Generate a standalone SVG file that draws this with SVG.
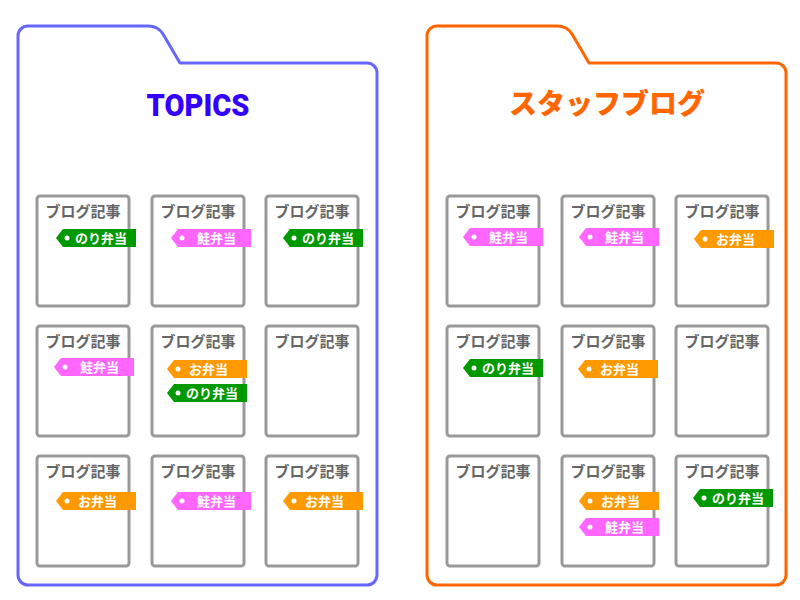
<svg xmlns="http://www.w3.org/2000/svg" width="800" height="600" viewBox="0 0 800 600">
<defs>
<style>
.folder{fill:#fff;stroke-width:3;stroke-linejoin:round}
.blue{stroke:#6666ff}
.orangef{stroke:#ff6600}
.ttl{font-family:"Noto Sans CJK JP","Noto Sans",sans-serif;font-weight:900;text-anchor:middle}
.card rect{fill:#fff;stroke:#999;stroke-width:3}
.card>text{font-family:"Noto Sans CJK JP",sans-serif;font-weight:bold;font-size:15px;fill:#666;text-anchor:middle}
.tag text{font-family:"Noto Sans CJK JP",sans-serif;font-weight:bold;font-size:13px;fill:#fff}
.tag circle{fill:#fff}
.g use{fill:#009900}
.p use{fill:#ff66ff}
.o use{fill:#ff9900}
</style>
<polygon id="tagshape" points="0,9 7,0 80,0 80,18 7,18"/>
</defs>
<rect width="800" height="600" fill="#fff"/>

<g id="folder-topics">
<path class="folder blue" d="M28,26 H148 Q158,26 163,34 L180,63 H367 A10,10 0 0 1 377,73 V575 A10,10 0 0 1 367,585 H28 A10,10 0 0 1 18,575 V36 A10,10 0 0 1 28,26 Z"/>
<text x="198" y="116" font-size="32" fill="#3300ff" font-weight="900" text-anchor="middle" style="font-family:Roboto,'Liberation Sans',sans-serif" textLength="103" lengthAdjust="spacingAndGlyphs">TOPICS</text>
</g>

<g id="folder-staff">
<path class="folder orangef" d="M437,26 H557 Q567,26 572,34 L589,63 H776 A10,10 0 0 1 786,73 V575 A10,10 0 0 1 776,585 H437 A10,10 0 0 1 427,575 V36 A10,10 0 0 1 437,26 Z"/>
<text class="ttl" x="607" y="114" font-size="28" fill="#ff6600">スタッフブログ</text>
</g>

<!-- TOPICS cards -->
<g id="t11" class="card"><rect x="37" y="196" width="92" height="110" rx="3"/><text x="83" y="217">ブログ記事</text>
<g class="tag g" transform="translate(56,229)"><use href="#tagshape"/><circle cx="11" cy="9" r="2.5"/><text x="19" y="14">のり弁当</text></g></g>
<g id="t12" class="card"><rect x="152" y="196" width="92" height="110" rx="3"/><text x="198" y="217">ブログ記事</text>
<g class="tag p" transform="translate(171,229)"><use href="#tagshape"/><circle cx="11" cy="9" r="2.5"/><text x="26" y="14">鮭弁当</text></g></g>
<g id="t13" class="card"><rect x="266" y="196" width="92" height="110" rx="3"/><text x="312" y="217">ブログ記事</text>
<g class="tag g" transform="translate(283,229)"><use href="#tagshape"/><circle cx="11" cy="9" r="2.5"/><text x="19" y="14">のり弁当</text></g></g>

<g id="t21" class="card"><rect x="37" y="326" width="92" height="110" rx="3"/><text x="83" y="347">ブログ記事</text>
<g class="tag p" transform="translate(54,358)"><use href="#tagshape"/><circle cx="11" cy="9" r="2.5"/><text x="26" y="14">鮭弁当</text></g></g>
<g id="t22" class="card"><rect x="152" y="326" width="92" height="110" rx="3"/><text x="198" y="347">ブログ記事</text>
<g class="tag o" transform="translate(167,360)"><use href="#tagshape"/><circle cx="11" cy="9" r="2.5"/><text x="22" y="14">お弁当</text></g>
<g class="tag g" transform="translate(167,384)"><use href="#tagshape"/><circle cx="11" cy="9" r="2.5"/><text x="19" y="14">のり弁当</text></g></g>
<g id="t23" class="card"><rect x="266" y="326" width="92" height="110" rx="3"/><text x="312" y="347">ブログ記事</text></g>

<g id="t31" class="card"><rect x="37" y="456" width="92" height="110" rx="3"/><text x="83" y="477">ブログ記事</text>
<g class="tag o" transform="translate(56,492)"><use href="#tagshape"/><circle cx="11" cy="9" r="2.5"/><text x="22" y="14">お弁当</text></g></g>
<g id="t32" class="card"><rect x="152" y="456" width="92" height="110" rx="3"/><text x="198" y="477">ブログ記事</text>
<g class="tag p" transform="translate(171,492)"><use href="#tagshape"/><circle cx="11" cy="9" r="2.5"/><text x="26" y="14">鮭弁当</text></g></g>
<g id="t33" class="card"><rect x="266" y="456" width="92" height="110" rx="3"/><text x="312" y="477">ブログ記事</text>
<g class="tag o" transform="translate(283,492)"><use href="#tagshape"/><circle cx="11" cy="9" r="2.5"/><text x="22" y="14">お弁当</text></g></g>

<!-- Staff blog cards -->
<g id="s11" class="card"><rect x="447" y="196" width="92" height="110" rx="3"/><text x="493" y="217">ブログ記事</text>
<g class="tag p" transform="translate(463,228)"><use href="#tagshape"/><circle cx="11" cy="9" r="2.5"/><text x="26" y="14">鮭弁当</text></g></g>
<g id="s12" class="card"><rect x="562" y="196" width="92" height="110" rx="3"/><text x="608" y="217">ブログ記事</text>
<g class="tag p" transform="translate(579,228)"><use href="#tagshape"/><circle cx="11" cy="9" r="2.5"/><text x="26" y="14">鮭弁当</text></g></g>
<g id="s13" class="card"><rect x="676" y="196" width="92" height="110" rx="3"/><text x="722" y="217">ブログ記事</text>
<g class="tag o" transform="translate(694,230)"><use href="#tagshape"/><circle cx="11" cy="9" r="2.5"/><text x="22" y="14">お弁当</text></g></g>

<g id="s21" class="card"><rect x="447" y="326" width="92" height="110" rx="3"/><text x="493" y="347">ブログ記事</text>
<g class="tag g" transform="translate(463,359)"><use href="#tagshape"/><circle cx="11" cy="9" r="2.5"/><text x="19" y="14">のり弁当</text></g></g>
<g id="s22" class="card"><rect x="562" y="326" width="92" height="110" rx="3"/><text x="608" y="347">ブログ記事</text>
<g class="tag o" transform="translate(578,360)"><use href="#tagshape"/><circle cx="11" cy="9" r="2.5"/><text x="22" y="14">お弁当</text></g></g>
<g id="s23" class="card"><rect x="676" y="326" width="92" height="110" rx="3"/><text x="722" y="347">ブログ記事</text></g>

<g id="s31" class="card"><rect x="447" y="456" width="92" height="110" rx="3"/><text x="493" y="477">ブログ記事</text></g>
<g id="s32" class="card"><rect x="562" y="456" width="92" height="110" rx="3"/><text x="608" y="477">ブログ記事</text>
<g class="tag o" transform="translate(579,492)"><use href="#tagshape"/><circle cx="11" cy="9" r="2.5"/><text x="22" y="14">お弁当</text></g>
<g class="tag p" transform="translate(579,518)"><use href="#tagshape"/><circle cx="11" cy="9" r="2.5"/><text x="26" y="14">鮭弁当</text></g></g>
<g id="s33" class="card"><rect x="676" y="456" width="92" height="110" rx="3"/><text x="722" y="477">ブログ記事</text>
<g class="tag g" transform="translate(693,489)"><use href="#tagshape"/><circle cx="11" cy="9" r="2.5"/><text x="19" y="14">のり弁当</text></g></g>
</svg>
